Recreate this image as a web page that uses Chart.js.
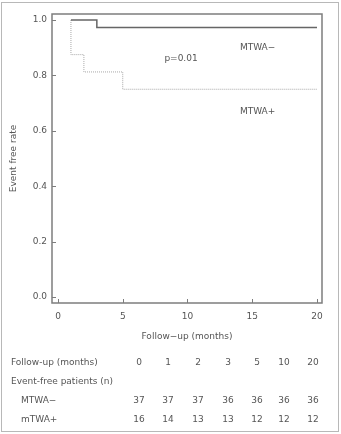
<!DOCTYPE html>
<html>
<head>
<meta charset="utf-8">
<script src="https://cdn.jsdelivr.net/npm/chart.js@4/dist/chart.umd.min.js"></script>
<style>
html, body { margin: 0; padding: 0; background: #fff; }
</style>
</head>
<body>
<canvas id="km" width="341" height="434"></canvas>
<script>
// Kaplan-Meier steps
const minusTimes = [1, 3, 20];
const minusRate = [1.0, 0.973, 0.973];
const plusTimes = [1, 1, 2, 5, 20];
const plusRate = [1.0, 0.875, 0.8125, 0.75, 0.75];

const xTicks = [0, 5, 10, 15, 20];
const yTicks = [0, 0.2, 0.4, 0.6, 0.8, 1.0];

// number-at-risk table
const tableMonths = ['0', '1', '2', '3', '5', '10', '20'];
const tableMinus = [37, 37, 37, 36, 36, 36, 36];
const tablePlus = [16, 14, 13, 13, 12, 12, 12];

const txt = '#555';
const fnt = '9px "DejaVu Sans"';

function pts(xs, ys) { return xs.map((x, i) => ({ x: x, y: ys[i] })); }

const decor = {
    id: 'decor',
    afterDraw(chart) {
        const c = chart.ctx, a = chart.chartArea;
        const xs = chart.scales.x, ys = chart.scales.y;
        c.save();
        // outer frame
        c.strokeStyle = '#b8b8b8'; c.lineWidth = 1;
        c.strokeRect(1.5, 2.5, 337, 429);
        // plot box
        c.strokeStyle = '#7d7d7d'; c.lineWidth = 1.5;
        c.strokeRect(a.left, a.top, a.right - a.left, a.bottom - a.top);
        // inside ticks
        c.lineWidth = 1;
        yTicks.forEach(v => {
            const y = Math.round(ys.getPixelForValue(v)) + 0.5;
            c.beginPath(); c.moveTo(a.left, y); c.lineTo(a.left + 4, y); c.stroke();
        });
        xTicks.forEach(v => {
            const x = Math.round(xs.getPixelForValue(v)) + 0.5;
            c.beginPath(); c.moveTo(x, a.bottom); c.lineTo(x, a.bottom - 4); c.stroke();
        });
        // annotations
        c.fillStyle = txt; c.font = fnt; c.textBaseline = 'middle';
        c.textAlign = 'center';
        c.fillText('p=0.01', xs.getPixelForValue(9.5), ys.getPixelForValue(0.86));
        c.textAlign = 'left';
        c.fillText('MTWA\u2212', xs.getPixelForValue(14.05), ys.getPixelForValue(0.9));
        c.fillText('MTWA+', xs.getPixelForValue(14.05), ys.getPixelForValue(0.668));
        // table
        const cols = [139, 168, 198, 228, 257, 284, 313];
        c.fillText('Follow-up (months)', 11, 363);
        c.fillText('Event-free patients (n)', 11, 382);
        c.fillText('MTWA\u2212', 21, 401);
        c.fillText('mTWA+', 21, 420);
        c.textAlign = 'center';
        cols.forEach((x, i) => {
            c.fillText(tableMonths[i], x, 363);
            c.fillText(String(tableMinus[i]), x, 401);
            c.fillText(String(tablePlus[i]), x, 420);
        });
        c.restore();
    }
};

new Chart(document.getElementById('km'), {
    type: 'scatter',
    data: {
        datasets: [
            {
                label: 'MTWA-',
                data: pts(minusTimes, minusRate),
                showLine: true, stepped: true,
                borderColor: '#666', borderWidth: 1.5,
                pointRadius: 0, fill: false
            },
            {
                label: 'MTWA+',
                data: pts(plusTimes, plusRate),
                showLine: true, stepped: true,
                borderColor: '#a8a8a8', borderWidth: 1, borderDash: [1, 1],
                pointRadius: 0, fill: false
            }
        ]
    },
    options: {
        responsive: false,
        animation: false,
        devicePixelRatio: 1,
        layout: { padding: { left: 0, top: 14, right: 19, bottom: 91 } },
        plugins: { legend: { display: false }, tooltip: { enabled: false } },
        scales: {
            x: {
                type: 'linear', min: -0.463, max: 20.386,
                afterBuildTicks: s => { s.ticks = xTicks.map(v => ({ value: v })); },
                afterFit: s => { s.height = 40; },
                grid: { display: false, drawTicks: false },
                border: { display: false },
                ticks: { color: txt, font: { family: 'DejaVu Sans', size: 9 }, padding: 8, maxRotation: 0 },
                title: { display: true, text: 'Follow\u2212up (months)', color: txt,
                         font: { family: 'DejaVu Sans', size: 9 }, padding: { top: 0, bottom: 1 } }
            },
            y: {
                type: 'linear', min: -0.0217, max: 1.0217,
                afterBuildTicks: s => { s.ticks = yTicks.map(v => ({ value: v })); },
                afterFit: s => { s.width = 52; },
                grid: { display: false, drawTicks: false },
                border: { display: false },
                ticks: { color: txt, font: { family: 'DejaVu Sans', size: 9 }, padding: 5,
                         callback: v => v.toFixed(1) },
                title: { display: true, text: 'Event free rate', color: txt,
                         font: { family: 'DejaVu Sans', size: 9 }, padding: { top: 8, bottom: 0 } }
            }
        }
    },
    plugins: [decor]
});
</script>
</body>
</html>
